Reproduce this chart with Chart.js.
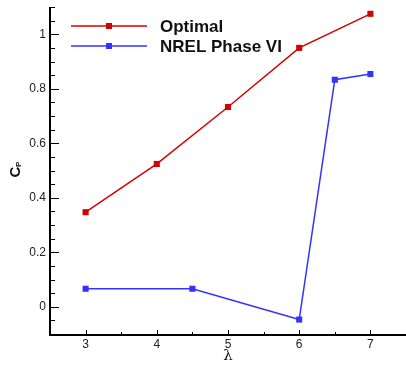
<!DOCTYPE html>
<html>
<head>
<meta charset="utf-8">
<script src="https://cdn.jsdelivr.net/npm/chart.js@4/dist/chart.umd.min.js"></script>
<style>
html,body{margin:0;padding:0;background:#fff;}
#wrap{width:406px;height:365px;}
</style>
</head>
<body>
<div id="wrap"><canvas id="c" width="406" height="365"></canvas></div>
<script>
const optimalLambda = [3, 4, 5, 6, 7];
const optimalCp = [0.347, 0.524, 0.733, 0.950, 1.075];
const nrelLambda = [3, 4.5, 6, 6.5, 7];
const nrelCp = [0.066, 0.066, -0.047, 0.833, 0.854];
const xTicks = [3, 4, 5, 6, 7];
const yTicks = [0, 0.2, 0.4, 0.6, 0.8, 1];
const seriesNames = ['Optimal', 'NREL Phase VI'];

const RED = '#d40000', BLUE = '#3333ff';
const toPts = (xs, ys) => xs.map((x, i) => ({x: x, y: ys[i]}));

const inwardTicks = {
  id: 'inwardTicks',
  afterDatasetsDraw(chart) {
    const ctx = chart.ctx, xs = chart.scales.x, ys = chart.scales.y, a = chart.chartArea;
    ctx.save();
    ctx.strokeStyle = '#000';
    ctx.lineWidth = 1;
    for (let i = Math.round(ys.min / 0.05); i <= Math.round(ys.max / 0.05); i++) {
      const v = i * 0.05;
      const major = yTicks.some(t => Math.abs(t - v) < 1e-6);
      const py = Math.round(ys.getPixelForValue(v)) + 0.5;
      ctx.beginPath();
      ctx.moveTo(a.left, py);
      ctx.lineTo(a.left + (major ? 9 : 5), py);
      ctx.stroke();
    }
    for (let i = Math.round(xs.min / 0.5); i <= Math.round(xs.max / 0.5); i++) {
      const v = i * 0.5;
      const major = xTicks.some(t => Math.abs(t - v) < 1e-6);
      const px = Math.round(xs.getPixelForValue(v)) + 0.5;
      ctx.beginPath();
      ctx.moveTo(px, a.bottom);
      ctx.lineTo(px, a.bottom - (major ? 4 : 2));
      ctx.stroke();
    }
    ctx.lineWidth = 2;
    ctx.beginPath();
    ctx.moveTo(a.left, a.top);
    ctx.lineTo(a.left, a.bottom + 1);
    ctx.lineTo(a.right, a.bottom + 1);
    ctx.stroke();
    ctx.restore();
  },
  afterDraw(chart) {
    const ctx = chart.ctx, a = chart.chartArea;
    ctx.save();
    const colors = [RED, BLUE];
    seriesNames.forEach((name, i) => {
      const y = 26 + i * 20;
      ctx.strokeStyle = colors[i];
      ctx.lineWidth = 1.5;
      ctx.beginPath();
      ctx.moveTo(71, y); ctx.lineTo(147, y); ctx.stroke();
      ctx.fillStyle = colors[i];
      ctx.fillRect(106, y - 3, 6, 6);
      ctx.fillStyle = '#111';
      ctx.font = 'bold 17px "Liberation Sans", Arial, sans-serif';
      ctx.textBaseline = 'middle';
      ctx.textAlign = 'left';
      ctx.fillText(name, 160, y + 1);
    });
    ctx.translate(16, 172);
    ctx.rotate(-Math.PI / 2);
    ctx.fillStyle = '#111';
    ctx.textBaseline = 'middle';
    ctx.textAlign = 'center';
    ctx.font = 'bold 15px "Liberation Sans", Arial, sans-serif';
    ctx.fillText('C', 0, 0);
    ctx.font = 'bold 8px "Liberation Sans", Arial, sans-serif';
    ctx.textAlign = 'left';
    ctx.fillText('P', 5, 3);
    ctx.restore();
    ctx.save();
    ctx.fillStyle = '#111';
    ctx.font = '15px "DejaVu Serif", serif';
    ctx.textAlign = 'center';
    ctx.textBaseline = 'middle';
    ctx.fillText('λ', chart.scales.x.getPixelForValue(5), 356);
    ctx.restore();
  }
};

new Chart(document.getElementById('c'), {
  type: 'scatter',
  data: {
    datasets: [
      {label: seriesNames[0], data: toPts(optimalLambda, optimalCp), showLine: true,
       borderColor: RED, backgroundColor: RED, borderWidth: 1.5,
       pointStyle: 'rect', pointRadius: 4.3, pointHoverRadius: 4.3, pointBorderWidth: 0},
      {label: seriesNames[1], data: toPts(nrelLambda, nrelCp), showLine: true,
       borderColor: BLUE, backgroundColor: BLUE, borderWidth: 1.5,
       pointStyle: 'rect', pointRadius: 4.3, pointHoverRadius: 4.3, pointBorderWidth: 0}
    ]
  },
  options: {
    responsive: false,
    animation: false,
    events: [],
    layout: {autoPadding: false, padding: {top: 7, right: 0, left: 0, bottom: 0}},
    plugins: {legend: {display: false}, tooltip: {enabled: false}},
    scales: {
      x: {
        type: 'linear', min: 2.5, max: 7.5,
        afterBuildTicks: s => { s.ticks = xTicks.map(v => ({value: v})); },
        afterFit: s => { s.height = 31; s.paddingLeft = 0; s.paddingRight = 0; },
        grid: {display: false, drawTicks: false},
        border: {display: false},
        ticks: {padding: 3, color: '#222', font: {family: '"Liberation Sans", Arial, sans-serif', size: 12},
                callback: v => String(v), maxRotation: 0}
      },
      y: {
        type: 'linear', min: -0.1, max: 1.1,
        afterBuildTicks: s => { s.ticks = yTicks.map(v => ({value: v})); },
        afterFit: s => { s.width = 50; s.paddingTop = 0; s.paddingBottom = 0; },
        grid: {display: false, drawTicks: false},
        border: {display: false},
        ticks: {padding: 4, color: '#222', font: {family: '"Liberation Sans", Arial, sans-serif', size: 12},
                callback: v => String(Math.round(v * 10) / 10)}
      }
    }
  },
  plugins: [inwardTicks]
});
</script>
</body>
</html>
